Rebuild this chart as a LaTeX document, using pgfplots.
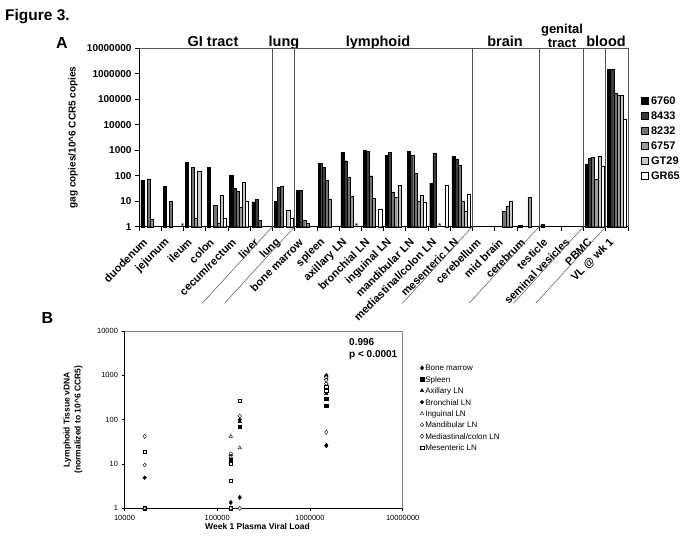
\documentclass[border=0pt]{standalone}
\usepackage{fontspec}
\setmainfont{Liberation Sans}
\usepackage{pgfplots}
\usepackage{pgfplotstable}
\pgfplotsset{compat=1.18}

\definecolor{cA}{RGB}{0,0,0}
\definecolor{cB}{RGB}{60,60,60}
\definecolor{cC}{RGB}{115,115,115}
\definecolor{cD}{RGB}{155,155,155}
\definecolor{cE}{RGB}{200,200,200}
\definecolor{cF}{RGB}{255,255,255}
\definecolor{sepc}{RGB}{85,85,85}

% Panel A: gag copies per 10^6 CCR5 copies, 6 animals, nan = no bar
\pgfplotstableread{
x  a       b       c       d       e       f
0  68      nan     75      2.0     nan     nan
1  39      nan     10.3    nan     nan     nan
2  345     nan     215     2.2     155     nan
3  215     nan     6.8     1.4     16.7    2.1
4  108     32      25      5.7     56      10.4
5  9.5     12      1.8     nan     nan     nan
6  9.8     34      40      nan     4.5     2.1
7  26      26      1.76    1.35    nan     nan
8  297     208     69      12.4    nan     nan
9  850     388     90      16.3    nan     nan
10 1000    930     100     13      nan     4.9
11 630     830     23      14.5    42      nan
12 900     650     121     10.1    17.3    9.5
13 52      780     nan     nan     nan     42
14 560     455     265     10.1    4.2     19
15 nan     nan     nan     nan     nan     nan
16 nan     nan     3.9     6.6     10.1    nan
17 1.12    nan     nan     14.5    nan     nan
18 1.25    nan     nan     nan     nan     nan
19 nan     nan     nan     nan     nan     nan
20 290     470     550     73      580     238
21 1500000 1500000 175000  140000  140000  16500
}\bars

% Panel B: tissue vDNA vs week 1 viral load
\pgfplotstableread{
x y
1500000 26
1500000 26
175000 1.76
140000 1.35
140000 1
16500 1
}\tBM
\pgfplotstableread{
x y
1500000 297
1500000 208
175000 69
140000 12.4
140000 1
16500 1
}\tSP
\pgfplotstableread{
x y
1500000 850
1500000 388
175000 90
140000 16.3
140000 1
16500 1
}\tAX
\pgfplotstableread{
x y
1500000 1000
1500000 930
175000 100
140000 13
140000 1
16500 4.9
}\tBR
\pgfplotstableread{
x y
1500000 630
1500000 830
175000 23
140000 14.5
140000 42
16500 1
}\tIN
\pgfplotstableread{
x y
1500000 900
1500000 650
175000 121
140000 10.1
140000 17.3
16500 9.5
}\tMA
\pgfplotstableread{
x y
1500000 52
1500000 780
175000 1
140000 1
140000 1
16500 42
}\tMD
\pgfplotstableread{
x y
1500000 560
1500000 455
175000 265
140000 10.1
140000 4.2
16500 19
}\tME

\begin{document}
\begin{tikzpicture}
\useasboundingbox (0pt,0pt) rectangle (683pt,-546pt);

\node[anchor=base west, inner sep=0pt, font=\bfseries\fontsize{15.5}{18}\selectfont] at (5pt,-20pt) {Figure 3.};
\node[anchor=base west, inner sep=0pt, font=\bfseries\fontsize{16}{18}\selectfont] at (56pt,-48pt) {A};
\node[anchor=base west, inner sep=0pt, font=\bfseries\fontsize{16}{18}\selectfont] at (41.5pt,-323pt) {B};

\begin{scope}[font=\bfseries\fontsize{14.5}{16}\selectfont]
\node[anchor=base, inner sep=0pt] at (213pt,-46.5pt) {GI tract};
\node[anchor=base, inner sep=0pt] at (284pt,-46.5pt) {lung};
\node[anchor=base, inner sep=0pt] at (378pt,-46.5pt) {lymphoid};
\node[anchor=base, inner sep=0pt] at (505pt,-46.5pt) {brain};
\node[anchor=base, inner sep=0pt] at (606pt,-46.5pt) {blood};
\end{scope}
\node[anchor=base, inner sep=0pt, align=center, font=\bfseries\fontsize{13}{13.5}\selectfont] at (562pt,-47pt) {genital\\tract};

\begin{axis}[
  at={(139pt,-226.7pt)}, anchor=south west,
  scale only axis, width=489pt, height=178.4pt,
  xmin=-0.5, xmax=21.5, ymin=1, ymax=1e7, ymode=log,
  axis lines*=left, clip=false,
  axis line style={black, line width=0.6pt},
  tick align=outside, major tick length=4pt, minor tick length=4pt,
  every tick/.style={black, line width=0.6pt},
  ytick={1,10,100,1000,10000,100000,1000000,10000000},
  yticklabels={1,10,100,1000,10000,100000,1000000,10000000},
  yminorticks=false,
  yticklabel style={font=\bfseries\fontsize{10}{12}\selectfont},
  xtick={0,...,21},
  every major x tick/.style={draw=none},
  minor xtick={-0.5,0.5,...,21.5},
  xticklabels={duodenum, jejunum, ileum, colon, cecum/rectum, liver, lung, bone marrow, spleen, axillary LN, bronchial LN, inguinal LN, mandibular LN, mediastinal/colon LN, mesenteric LN, cerebellum, mid brain, cerebrum, testicle, seminal vesicles, PBMC, VL @ wk 1},
  xticklabel style={xshift=-4pt, yshift=-9pt, rotate=45, anchor=east, font=\bfseries\fontsize{11}{13}\selectfont, inner sep=1pt},
  ylabel={gag copies/10\^{}6 CCR5 copies},
  every axis y label/.style={at={(axis description cs:-0.135,0.5)}, rotate=90, anchor=center, font=\bfseries\fontsize{10}{12}\selectfont},
  ybar, bar width=0.14,
  every axis plot/.append style={draw=black, line width=0.4pt},
  legend style={at={(axis description cs:1.0266,0.7326)}, anchor=north west, draw=none, fill=none, inner sep=0pt,
    font=\bfseries\fontsize{11}{13}\selectfont, row sep=5.1pt,
    nodes={text height=8pt, text depth=2pt, inner sep=0pt, anchor=base west},
    /tikz/every odd column/.style={column sep=2.5pt}},
  legend cell align=left,
  legend image code/.code={\draw[#1,/tikz/.cd] (0pt,0.3pt) rectangle (7pt,7.3pt);},
]
\addplot[fill=cA, bar shift=-0.35] table[x=x, y=a] {\bars};
\addplot[fill=cB, bar shift=-0.21] table[x=x, y=b] {\bars};
\addplot[fill=cC, bar shift=-0.07] table[x=x, y=c] {\bars};
\addplot[fill=cD, bar shift=0.07] table[x=x, y=d] {\bars};
\addplot[fill=cE, bar shift=0.21] table[x=x, y=e] {\bars};
\addplot[fill=cF, bar shift=0.35] table[x=x, y=f] {\bars};
\legend{6760, 8433, 8232, 6757, GT29, GR65}

\draw[sepc, line width=0.6pt] (rel axis cs:0,1) -- (rel axis cs:1,1) -- (rel axis cs:1,0);
\pgfplotsinvokeforeach{5.5,6.5,14.5,17.5,19.5,20.5}{
  \draw[sepc, line width=0.6pt] (axis cs:#1,1) -- (axis cs:#1,10000000);
  \draw[sepc, line width=0.5pt] (axis cs:#1,1) -- ++(-70pt,-76.5pt);
}
\pgfplotsinvokeforeach{1.466,9.294,13.04}{
  \node[anchor=base, inner sep=0pt, font=\fontsize{9}{9}\selectfont, yshift=-2.6pt] at (axis cs:#1,1) {*};
}
\end{axis}

\node[anchor=base west, inner sep=0pt, font=\bfseries\fontsize{10}{12}\selectfont] at (349pt,-345pt) {0.996};
\node[anchor=base west, inner sep=0pt, font=\bfseries\fontsize{10}{12}\selectfont] at (349pt,-357pt) {p < 0.0001};

\begin{axis}[
  at={(124.5pt,-508.3pt)}, anchor=south west,
  scale only axis, width=278.2pt, height=177.3pt,
  xmode=log, ymode=log, xmin=1e4, xmax=1e7, ymin=1, ymax=1e4,
  axis lines*=left, clip=false,
  axis line style={black, line width=0.6pt},
  tick align=outside, major tick length=3pt,
  every tick/.style={black, line width=0.5pt},
  xminorticks=false, yminorticks=false,
  xtick={10000,100000,1000000,10000000},
  xticklabels={10000,100000,1000000,10000000},
  ytick={1,10,100,1000,10000},
  yticklabels={1,10,100,1000,10000},
  ticklabel style={font=\fontsize{7.5}{9}\selectfont},
  xlabel={Week 1 Plasma Viral Load},
  every axis x label/.style={at={(axis description cs:0.478,-0.103)}, anchor=center, font=\bfseries\fontsize{8.5}{10}\selectfont},
  ylabel={Lymphoid Tissue vDNA\\(normalized to 10\^{}6 CCR5)},
  every axis y label/.style={at={(axis description cs:-0.185,0.5)}, rotate=90, anchor=center, align=center, font=\bfseries\fontsize{8.5}{11}\selectfont},
  legend style={at={(axis description cs:1.0622,0.8105)}, anchor=north west, draw=none, fill=none, inner sep=0pt,
    font=\fontsize{8}{9.5}\selectfont, row sep=3.7pt,
    nodes={text height=6pt, text depth=1.7pt, inner sep=0pt, anchor=base west},
    /tikz/every odd column/.style={column sep=1.5pt}},
  legend cell align=left,
  legend image code/.code={\draw[#1] plot coordinates {(2pt,2.9pt)};},
]
\addplot[only marks, mark=diamond*, mark size=2.2pt, black] table {\tBM};
\addplot[only marks, mark=square*, mark size=1.7pt, black] table {\tSP};
\addplot[only marks, mark=triangle*, mark size=2pt, black] table {\tAX};
\addplot[only marks, mark=*, mark size=1.8pt, black] table {\tBR};
\addplot[only marks, mark=triangle*, mark size=2pt, black, mark options={fill=white, line width=0.4pt}] table {\tIN};
\addplot[only marks, mark=*, mark size=1.8pt, black, mark options={fill=white, line width=0.4pt}] table {\tMA};
\addplot[only marks, mark=diamond*, mark size=2.2pt, black, mark options={fill=white, line width=0.4pt}] table {\tMD};
\addplot[only marks, mark=square*, mark size=1.7pt, black, mark options={fill=white, line width=0.4pt}] table {\tME};
\legend{Bone marrow, Spleen, Axillary LN, Bronchial LN, Inguinal LN, Mandibular LN, Mediastinal/colon LN, Mesenteric LN}
\draw[gray, line width=0.6pt] (rel axis cs:0,1) -- (rel axis cs:1,1) -- (rel axis cs:1,0);
\end{axis}
\end{tikzpicture}
\end{document}
